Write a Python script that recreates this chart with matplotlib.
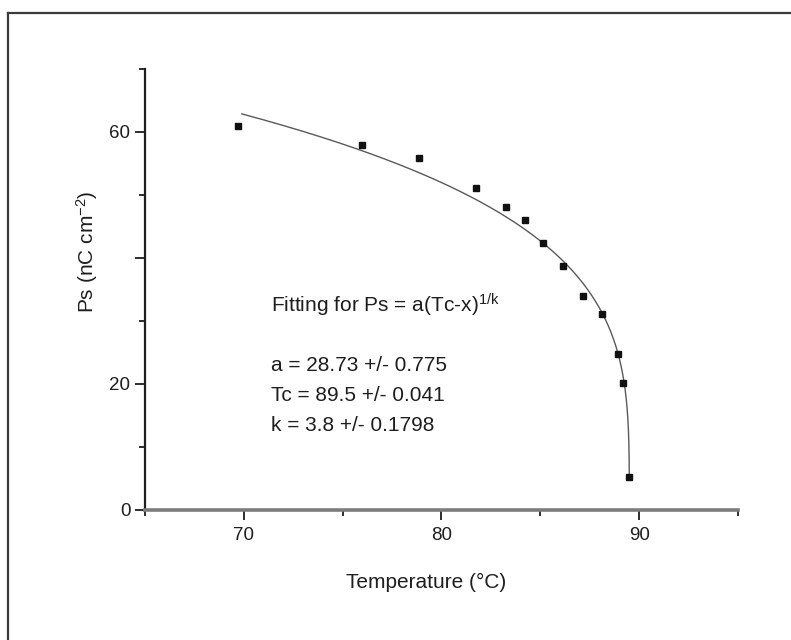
import numpy as np
import matplotlib
matplotlib.use("Agg")
import matplotlib.pyplot as plt
from matplotlib.lines import Line2D

plt.rcParams['font.family'] = ['Liberation Sans', 'DejaVu Sans']
plt.rcParams['mathtext.fontset'] = 'custom'
plt.rcParams['mathtext.rm'] = 'Liberation Sans'
plt.rcParams['mathtext.it'] = 'Liberation Sans:italic'
plt.rcParams['mathtext.bf'] = 'Liberation Sans:bold'

# measured spontaneous polarisation vs temperature
temperature = [69.73, 75.99, 78.88, 81.74, 83.26, 84.23, 85.16, 86.14,
               87.14, 88.12, 88.93, 89.17, 89.48]
ps_values = [61.0, 58.0, 55.9, 51.1, 48.0, 46.0, 42.3, 38.7,
             33.9, 31.0, 24.7, 20.1, 5.2]

# fitted parameters for Ps = a (Tc - x)^(1/k)
fit_a = 28.73
fit_tc = 89.5
fit_k = 3.8
fit_err = {"a": 0.775, "Tc": 0.041, "k": 0.1798}
fit_range = (69.9, 89.498)

x_ticks = [70, 80, 90]
x_minor = [65, 75, 85, 95]
y_ticks = [0, 20, 40, 60]
y_tick_labels = ["0", "20", "", "60"]
y_minor = [10, 30, 50, 70]

ink = "#1e1e1e"

fig = plt.figure(figsize=(7.91, 6.40), dpi=100)
ax = fig.add_axes([0.1833, 0.2039, 0.7497, 0.6883])

# fitted curve, evaluated densely near Tc where it turns vertical
dx = np.logspace(np.log10(fit_tc - fit_range[0]),
                 np.log10(fit_tc - fit_range[1]), 3000)
xf = fit_tc - dx
yf = fit_a * dx ** (1.0 / fit_k)
ax.plot(xf, yf, color="#5a5a5a", lw=1.0, zorder=2)

# measured points
ax.plot(temperature, ps_values, linestyle="none", marker="s",
        markersize=4.8, color="#111111", zorder=3)

ax.set_xlim(65, 95)
ax.set_ylim(0, 70)

ax.set_xticks(x_ticks)
ax.set_xticks(x_minor, minor=True)
ax.set_xticklabels([str(t) for t in x_ticks])
ax.set_yticks(y_ticks)
ax.set_yticks(y_minor, minor=True)
ax.set_yticklabels(y_tick_labels)

ax.tick_params(axis="both", which="major", direction="out", length=7.5,
               width=1.3, colors=ink, labelsize=13.5)
ax.tick_params(axis="both", which="minor", direction="out", length=4.5,
               width=1.3, colors=ink)
ax.tick_params(axis="x", which="major", pad=5)
ax.tick_params(axis="y", which="major", pad=3)

# faint major ticks on the lower temperatures
for tk in ax.xaxis.get_major_ticks()[:2]:
    tk.tick1line.set_color("#b8b8b8")
    tk.tick1line.set_linewidth(1.0)

for side in ("top", "right"):
    ax.spines[side].set_visible(False)
ax.spines["left"].set_color(ink)
ax.spines["left"].set_linewidth(1.6)
ax.spines["bottom"].set_color("#7c7c7c")
ax.spines["bottom"].set_linewidth(2.6)

ax.set_xlabel("Temperature (°C)", fontsize=15, color=ink)
ax.set_ylabel(r"Ps (nC cm$^{\mathrm{-2}}$)", fontsize=15, color=ink)
ax.xaxis.set_label_coords(0.474, -0.144)
ax.yaxis.set_label_coords(-0.076, 0.585)

tx = 0.2125
ax.text(tx, (509.5 - 305) / 440.5, r"Fitting for Ps = a(Tc-x)$^{\mathrm{1/k}}$",
        transform=ax.transAxes, fontsize=15, color=ink, va="center", ha="left")
ax.text(tx, (509.5 - 365) / 440.5, f"a = {fit_a} +/- {fit_err['a']}",
        transform=ax.transAxes, fontsize=15, color=ink, va="center", ha="left")
ax.text(tx, (509.5 - 395) / 440.5, f"Tc = {fit_tc} +/- {fit_err['Tc']}",
        transform=ax.transAxes, fontsize=15, color=ink, va="center", ha="left")
ax.text(tx, (509.5 - 425) / 440.5, f"k = {fit_k} +/- {fit_err['k']}",
        transform=ax.transAxes, fontsize=15, color=ink, va="center", ha="left")

# outer frame along the top and left edges
fig.add_artist(Line2D([8 / 791, 1.0], [1 - 13 / 640, 1 - 13 / 640],
                      transform=fig.transFigure, color="#3a3a3a", lw=1.6))
fig.add_artist(Line2D([8 / 791, 8 / 791], [0.0, 1 - 13 / 640],
                      transform=fig.transFigure, color="#3a3a3a", lw=1.6))

fig.savefig("out.png", dpi=100)
